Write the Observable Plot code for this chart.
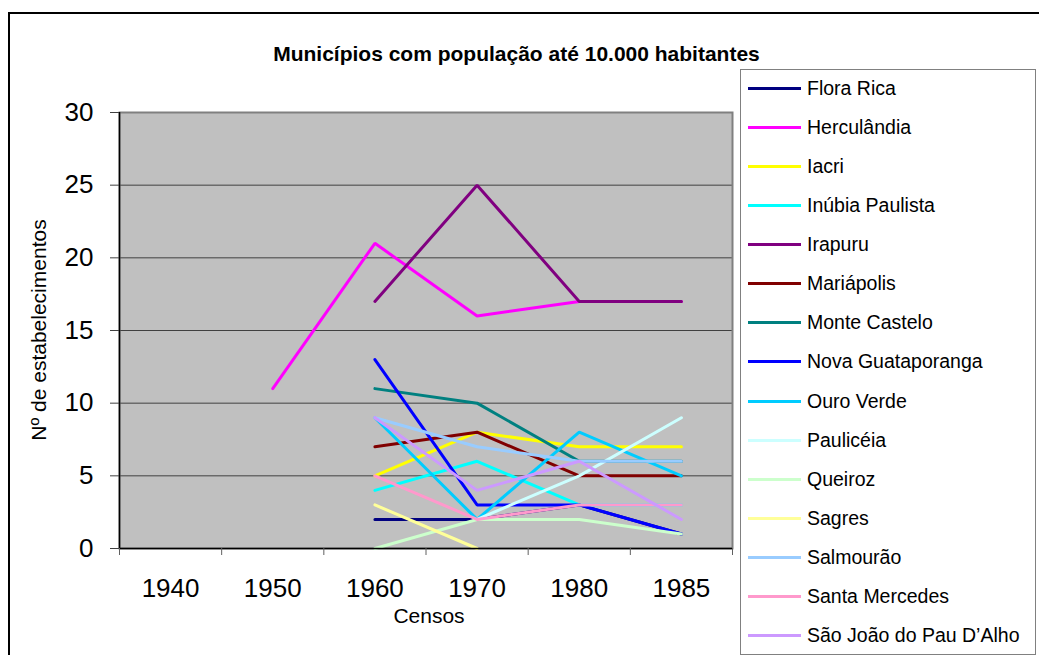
<!DOCTYPE html>
<html>
<head>
<meta charset="utf-8">
<script src="https://cdn.jsdelivr.net/npm/d3@7"></script>
<script src="https://cdn.jsdelivr.net/npm/@observablehq/plot@0.6"></script>
<style>
  html, body { margin: 0; padding: 0; background: #fff; overflow: hidden; }
  body { font-family: "Liberation Sans", Arial, sans-serif; color: #000; }
  #wrap { position: relative; width: 1039px; height: 655px; overflow: hidden; }
  #border { position: absolute; left: 8px; top: 12px; width: 1100px; height: 800px; border: 2px solid #000; box-sizing: border-box; }
  #chart { position: absolute; left: 0; top: 0; }
  #title { position: absolute; left: 0; width: 1033px; top: 42px; text-align: center; font-weight: bold; font-size: 21px; line-height: 24px; white-space: nowrap; }
  #xlabel { position: absolute; left: 329px; width: 200px; top: 604px; text-align: center; font-size: 21px; line-height: 24px; }
  #ylabel { position: absolute; left: 39px; top: 330px; transform: translate(-50%, -50%) rotate(-90deg); font-size: 21px; line-height: 24px; white-space: nowrap; }
  #legend { position: absolute; left: 740px; top: 69px; width: 296px; height: 586px; border: 1px solid #808080; box-sizing: border-box; background: #fff; }
  .row { position: absolute; left: 7px; height: 24px; display: flex; align-items: center; font-size: 19.5px; white-space: nowrap; }
  .swatch { width: 53px; height: 3px; margin-right: 6px; }
</style>
</head>
<body>
<div id="wrap">
  <div id="border"></div>
  <div id="title">Municípios com população até 10.000 habitantes</div>
  <div id="chart"></div>
  <div id="xlabel">Censos</div>
  <div id="ylabel">Nº de estabelecimentos</div>
  <div id="legend"></div>
</div>
<script>
// ---- Data ----
const years = [1940, 1950, 1960, 1970, 1980, 1985];
const yTicks = [0, 5, 10, 15, 20, 25, 30];

const names = [
  "Flora Rica", "Herculândia", "Iacri", "Inúbia Paulista", "Irapuru",
  "Mariápolis", "Monte Castelo", "Nova Guataporanga", "Ouro Verde", "Paulicéia",
  "Queiroz", "Sagres", "Salmourão", "Santa Mercedes", "São João do Pau D’Alho"
];
const colors = [
  "#000080", "#FF00FF", "#FFFF00", "#00FFFF", "#800080",
  "#800000", "#008080", "#0000FF", "#00CCFF", "#CCFFFF",
  "#CCFFCC", "#FFFF99", "#99CCFF", "#FF99CC", "#CC99FF"
];

const floraRica        = [null, null, 2, 2, 3, 1];
const herculandia      = [null, 11, 21, 16, 17, 17];
const iacri            = [null, null, 5, 8, 7, 7];
const inubiaPaulista   = [null, null, 4, 6, 3, 3];
const irapuru          = [null, null, 17, 25, 17, 17];
const mariapolis       = [null, null, 7, 8, 5, 5];
const monteCastelo     = [null, null, 11, 10, 6, 6];
const novaGuataporanga = [null, null, 13, 3, 3, 1];
const ouroVerde        = [null, null, 9, 2, 8, 5];
const pauliceia        = [null, null, null, 2, 5, 9];
const queiroz          = [null, null, 0, 2, 2, 1];
const sagres           = [null, null, 3, 0, null, null];
const salmourao        = [null, null, 9, 7, 6, 6];
const santaMercedes    = [null, null, 5, 2, 3, 3];
const saoJoao          = [null, null, 9, 4, 6, 2];

const seriesValues = [
  floraRica, herculandia, iacri, inubiaPaulista, irapuru,
  mariapolis, monteCastelo, novaGuataporanga, ouroVerde, pauliceia,
  queiroz, sagres, salmourao, santaMercedes, saoJoao
];

// ---- Table built from the arrays ----
const rows = [];
names.forEach((name, s) => {
  seriesValues[s].forEach((v, i) => {
    if (v !== null) rows.push({ name, year: years[i], xi: i + 0.5, value: v });
  });
});

const chart = Plot.plot({
  width: 1039,
  height: 655,
  marginLeft: 119,
  marginRight: 307,
  marginTop: 112,
  marginBottom: 107,
  style: { fontFamily: "'Liberation Sans', Arial, sans-serif", fontSize: "26px", color: "#000", background: "transparent", overflow: "visible" },
  x: { type: "linear", domain: [0, years.length] },
  y: { type: "linear", domain: [0, 30] },
  color: { type: "ordinal", domain: names, range: colors },
  marks: [
    Plot.frame({ fill: "#c0c0c0" }),
    Plot.ruleY(yTicks.slice(1, -1), { stroke: "#404040", strokeWidth: 1 }),
    Plot.frame({ stroke: "#808080", strokeWidth: 2 }),
    Plot.line(rows, { x: "xi", y: "value", z: "name", stroke: "name", strokeWidth: 3, strokeLinejoin: "miter" }),
    Plot.ruleX([0], { stroke: "#000", strokeWidth: 1.5 }),
    Plot.ruleY([0], { stroke: "#000", strokeWidth: 1.5 }),
    Plot.axisY({ ticks: yTicks, tickSize: 9, tickPadding: 17, fontSize: 26, label: null, stroke: "#404040" }),
    Plot.axisX({ ticks: d3.range(years.length + 1), tickFormat: () => "", tickSize: 7, label: null, stroke: "#606060" }),
    Plot.axisX({ ticks: years.map((_, i) => i + 0.5), tickFormat: v => String(years[Math.round(v - 0.5)]), tickSize: 0, tickPadding: 30, fontSize: 26, label: null })
  ]
});
document.getElementById("chart").appendChild(chart);

// ---- Legend ----
const legend = document.getElementById("legend");
const rowH = 39.07;
names.forEach((name, i) => {
  const row = document.createElement("div");
  row.className = "row";
  row.style.top = (19.5 + i * rowH - 12 - 1) + "px";
  const sw = document.createElement("div");
  sw.className = "swatch";
  sw.style.background = colors[i];
  const label = document.createElement("span");
  label.textContent = name;
  row.appendChild(sw);
  row.appendChild(label);
  legend.appendChild(row);
});
</script>
</body>
</html>
